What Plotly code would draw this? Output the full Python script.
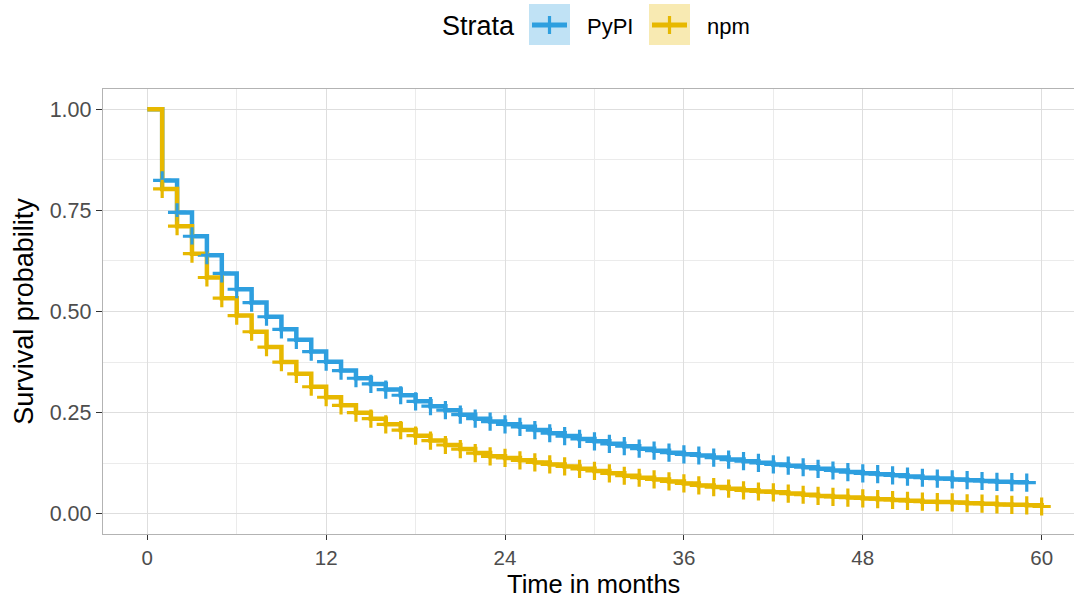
import plotly.graph_objects as go

# ---- data ----
time_pypi = list(range(0, 60))          # months 0..59
surv_pypi = [1.000, 0.824, 0.745, 0.686, 0.639, 0.594, 0.555, 0.522, 0.487, 0.456,
             0.430, 0.401, 0.376, 0.354, 0.335, 0.321, 0.307, 0.293, 0.278, 0.266,
             0.256, 0.245, 0.235, 0.228, 0.221, 0.215, 0.207, 0.199, 0.192, 0.185,
             0.179, 0.173, 0.167, 0.161, 0.156, 0.151, 0.147, 0.144, 0.139, 0.134,
             0.130, 0.126, 0.122, 0.119, 0.115, 0.111, 0.107, 0.103, 0.100, 0.098,
             0.095, 0.092, 0.089, 0.087, 0.085, 0.083, 0.081, 0.079, 0.078, 0.077]

time_npm = list(range(0, 61))           # months 0..60
surv_npm = [1.000, 0.803, 0.711, 0.643, 0.584, 0.533, 0.490, 0.450, 0.412, 0.375,
            0.346, 0.314, 0.288, 0.268, 0.250, 0.235, 0.221, 0.207, 0.193, 0.181,
            0.170, 0.160, 0.150, 0.142, 0.138, 0.132, 0.127, 0.122, 0.117, 0.111,
            0.106, 0.100, 0.094, 0.089, 0.085, 0.080, 0.075, 0.070, 0.066, 0.062,
            0.058, 0.055, 0.053, 0.050, 0.047, 0.044, 0.042, 0.040, 0.038, 0.036,
            0.034, 0.032, 0.030, 0.029, 0.028, 0.026, 0.025, 0.023, 0.022, 0.021,
            0.018]

strata = ["PyPI", "npm"]
colors = ["#2E9FDF", "#E7B800"]
fills = ["rgba(46,159,223,0.30)", "rgba(231,184,0,0.30)"]
x_ticks = [0, 12, 24, 36, 48, 60]
y_ticks = [0.0, 0.25, 0.5, 0.75, 1.0]
y_tick_labels = ["0.00", "0.25", "0.50", "0.75", "1.00"]

FONT = "Liberation Sans, Arial, Helvetica, sans-serif"
W, H = 1074, 600
ML, MR, MT, MB = 103, 0, 89, 66

series = [(time_pypi, surv_pypi), (time_npm, surv_npm)]

fig = go.Figure()
# step lines
for (t, s), name, c in zip(series, strata, colors):
    fig.add_trace(go.Scatter(x=t, y=s, mode="lines", line=dict(shape="hv", color=c, width=4.5),
                             name=name, showlegend=False, hoverinfo="skip"))
# censor marks
for (t, s), name, c in zip(series, strata, colors):
    fig.add_trace(go.Scatter(x=t[1:], y=s[1:], mode="markers",
                             marker=dict(symbol="cross-thin-open", size=13, color=c,
                                         line=dict(color=c, width=3.2)),
                             name=name, showlegend=False, hoverinfo="skip"))

# ---- manual legend (pixel -> paper conversion) ----
pw, ph = W - ML - MR, H - MT - MB
def px(xp):
    return (xp - ML) / pw
def py(yp):
    return (H - MB - yp) / ph

shapes = []
annotations = []
annotations.append(dict(text="Strata", x=px(440), y=py(26), xref="paper", yref="paper",
                        xanchor="left", yanchor="middle", showarrow=False,
                        font=dict(family=FONT, size=27, color="black")))
key_x = [529, 649]
text_x = [585, 705]
for kx, tx, name, c, f in zip(key_x, text_x, strata, colors, fills):
    shapes.append(dict(type="rect", xref="paper", yref="paper",
                       x0=px(kx), x1=px(kx + 41), y0=py(45), y1=py(4),
                       fillcolor=f, line=dict(width=0), layer="above"))
    shapes.append(dict(type="line", xref="paper", yref="paper",
                       x0=px(kx + 3), x1=px(kx + 38), y0=py(25), y1=py(25),
                       line=dict(color=c, width=5), layer="above"))
    shapes.append(dict(type="line", xref="paper", yref="paper",
                       x0=px(kx + 20.5), x1=px(kx + 20.5), y0=py(16), y1=py(34),
                       line=dict(color=c, width=3.2), layer="above"))
    annotations.append(dict(text=name, x=px(tx), y=py(26), xref="paper", yref="paper",
                            xanchor="left", yanchor="middle", showarrow=False,
                            font=dict(family=FONT, size=22, color="black")))

# x-axis title placed as a paper annotation just below the tick labels
annotations.append(dict(text="Time in months", x=px(593), y=py(584), xref="paper", yref="paper",
                        xanchor="center", yanchor="middle", showarrow=False,
                        font=dict(family=FONT, size=25.5, color="black")))

fig.update_layout(
    width=W, height=H,
    margin=dict(l=ML, r=MR, t=MT, b=MB, pad=0),
    paper_bgcolor="white", plot_bgcolor="white",
    font=dict(family=FONT, color="black"),
    showlegend=False,
    shapes=shapes, annotations=annotations,
    xaxis=dict(
        range=[-2.97, 62.17], tickvals=x_ticks, ticktext=[str(v) for v in x_ticks],
        showgrid=True, gridcolor="#DEDEDE", gridwidth=1.2,
        minor=dict(dtick=6, tick0=0, showgrid=True, gridcolor="#EBEBEB", gridwidth=1, ticks=""),
        zeroline=False, showline=True, linecolor="#B3B3B3", linewidth=1.4, mirror=True,
        ticks="outside", ticklen=5, tickcolor="#333333", tickwidth=1.2,
        tickfont=dict(family=FONT, size=20.5, color="#4D4D4D"),
    ),
    yaxis=dict(
        range=[-0.05, 1.05], tickvals=y_ticks, ticktext=y_tick_labels,
        showgrid=True, gridcolor="#DEDEDE", gridwidth=1.2,
        minor=dict(dtick=0.125, tick0=0, showgrid=True, gridcolor="#EBEBEB", gridwidth=1, ticks=""),
        zeroline=False, showline=True, linecolor="#B3B3B3", linewidth=1.4, mirror=True,
        ticks="outside", ticklen=6, tickcolor="#333333", tickwidth=1.2,
        tickfont=dict(family=FONT, size=21.5, color="#4D4D4D"),
        title=dict(text="Survival probability", font=dict(family=FONT, size=27, color="black"), standoff=8),
    ),
)

fig.write_html("out.html", config={"displayModeBar": False},
               post_script="document.body.style.margin='0';")
